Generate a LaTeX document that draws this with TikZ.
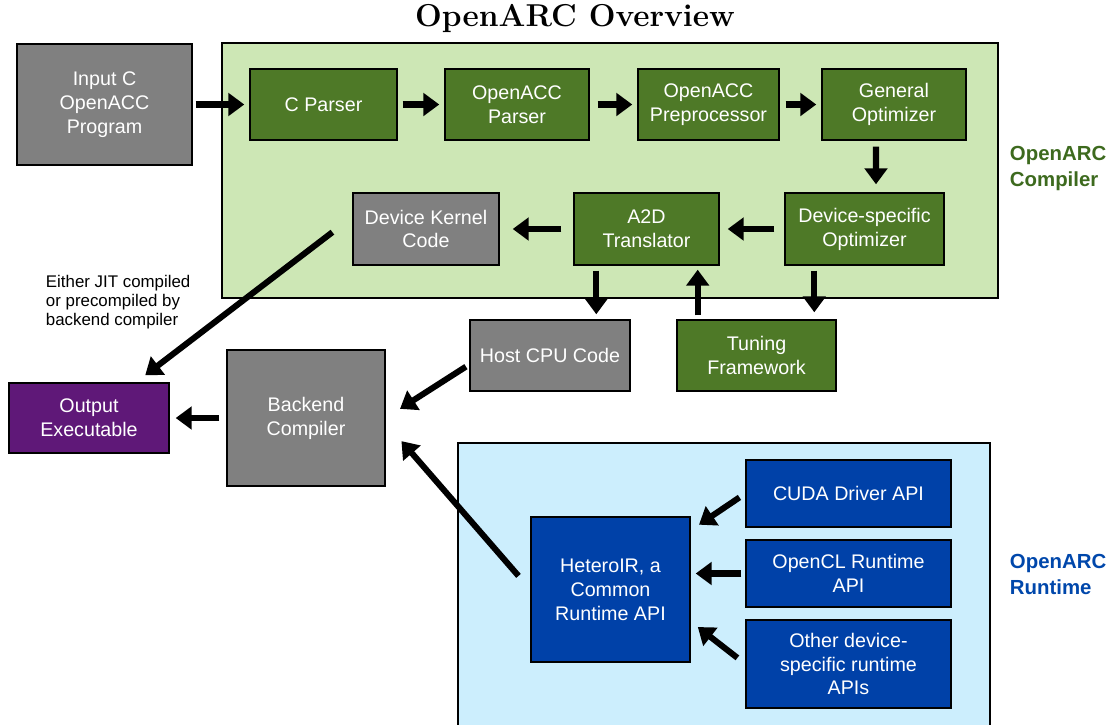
\documentclass[tikz,border=0pt]{standalone}
\usepackage{fontspec}
\setsansfont{Liberation Sans}
\usetikzlibrary{arrows.meta}

\definecolor{boxgray}{RGB}{128,128,128}
\definecolor{boxgreen}{RGB}{78,121,39}
\definecolor{compbg}{RGB}{205,231,181}
\definecolor{boxpurple}{RGB}{95,24,120}
\definecolor{rtbg}{RGB}{204,238,253}
\definecolor{boxblue}{RGB}{0,65,168}
\definecolor{complbl}{RGB}{61,106,30}
\definecolor{rtlbl}{RGB}{0,71,171}

\newcommand{\pxl}{0.025cm}

\tikzset{
  box/.style={draw=black, line width=1pt, text=white, align=center, inner sep=0pt,
    font=\sffamily\fontsize{14}{17}\selectfont},
  graybox/.style={box, fill=boxgray},
  greenbox/.style={box, fill=boxgreen},
  bluebox/.style={box, fill=boxblue},
  arr/.style={line width=4.3pt, -{Triangle[length=0.4cm,width=0.56cm]}},
  sidelbl/.style={anchor=west, align=left, font=\sffamily\bfseries\fontsize{14.5}{18.5}\selectfont}
}

\begin{document}
\begin{tikzpicture}[x=0.025cm, y=-0.025cm]
  \useasboundingbox (0,0) rectangle (1114,725);
  % Title
  \node[font=\bfseries\fontsize{22.5}{26}\selectfont] (title) at (575,18) {OpenARC Overview};
  % Backgrounds of compiler and runtime
  \draw[fill=compbg, line width=1pt] (222,43) rectangle (998,298);
  \draw[fill=rtbg, line width=1pt] (458,443) rectangle (990,726);
  \node[sidelbl, text=complbl] (complabel) at (1005,168) {OpenARC\\Compiler};
  \node[sidelbl, text=rtlbl] (rtlabel) at (1005,574) {OpenARC\\Runtime};

  % Compiler boxes
  \node[graybox, minimum width=175*\pxl, minimum height=121*\pxl] (inp) at (104.5,104.5) {Input C\\OpenACC\\Program};
  \node[greenbox, minimum width=147*\pxl, minimum height=71*\pxl] (cpar) at (323.5,104.5) {C Parser};
  \node[greenbox, minimum width=144*\pxl, minimum height=71*\pxl] (accpar) at (517,104.5) {OpenACC\\Parser};
  \node[greenbox, minimum width=141*\pxl, minimum height=71*\pxl] (prep) at (708.5,104.5) {OpenACC\\Preprocessor};
  \node[greenbox, minimum width=144*\pxl, minimum height=71*\pxl] (genopt) at (894,104.5) {General\\Optimizer};
  \node[greenbox, minimum width=159*\pxl, minimum height=72*\pxl] (devopt) at (864.5,229) {Device-specific\\Optimizer};
  \node[greenbox, minimum width=145*\pxl, minimum height=72*\pxl] (a2d) at (646.5,229) {A2D\\Translator};
  \node[graybox, minimum width=146*\pxl, minimum height=72*\pxl] (dkc) at (426,229) {Device Kernel\\Code};
  \node[graybox, minimum width=160*\pxl, minimum height=71*\pxl] (host) at (550,355.5) {Host CPU Code};
  \node[greenbox, minimum width=159*\pxl, minimum height=71*\pxl] (tune) at (756.5,355.5) {Tuning\\Framework};
  \node[box, fill=boxpurple, minimum width=160*\pxl, minimum height=70*\pxl] (out) at (89,418) {Output\\Executable};
  \node[graybox, minimum width=158*\pxl, minimum height=136*\pxl] (back) at (306,418) {Backend\\Compiler};
  \node[anchor=west, align=left, font=\sffamily\fontsize{12}{13.5}\selectfont] (note) at (41,302)
    {Either JIT compiled\\or precompiled by\\backend compiler};

  % Runtime boxes
  \node[bluebox, minimum width=159*\pxl, minimum height=145*\pxl] (hetero) at (610.5,589.5) {HeteroIR, a\\Common\\Runtime API};
  \node[bluebox, minimum width=205*\pxl, minimum height=67*\pxl] (cuda) at (848.5,493.5) {CUDA Driver API};
  \node[bluebox, minimum width=205*\pxl, minimum height=67*\pxl] (ocl) at (848.5,573.5) {OpenCL Runtime\\API};
  \node[bluebox, minimum width=205*\pxl, minimum height=88*\pxl] (other) at (848.5,664) {Other device-\\specific runtime\\APIs};

  % Compiler flow
  \draw[arr, shorten <=0.075cm, shorten >=0.125cm] (inp) -- (cpar);
  \draw[arr, shorten <=0.125cm, shorten >=0.125cm] (cpar) -- (accpar);
  \draw[arr, shorten <=0.2cm, shorten >=0.125cm] (accpar) -- (prep);
  \draw[arr, shorten <=0.15cm, shorten >=0.125cm] (prep) -- (genopt);
  \draw[arr, shorten <=0.15cm, shorten >=0.2cm] ([xshift=-18*\pxl]genopt.south) -- ([xshift=11.5*\pxl]devopt.north);
  \draw[arr, shorten <=0.25cm, shorten >=0.2cm] (devopt) -- (a2d);
  \draw[arr, shorten <=0.3cm, shorten >=0.325cm] (a2d) -- (dkc);
  \draw[arr, shorten <=0.125cm, shorten >=0.125cm] ([xshift=23*\pxl]a2d.south west) -- ([xshift=23*\pxl]a2d.south west |- host.north);
  \draw[arr, shorten <=0.1cm, shorten >=0.1cm] ([xshift=-22*\pxl]a2d.south east |- tune.north) -- ([xshift=-22*\pxl]a2d.south east);
  \draw[arr, shorten <=0.125cm, shorten >=0.175cm] ([xshift=30*\pxl]devopt.south west) -- ([xshift=30*\pxl]devopt.south west |- tune.north);

  % To backend and output
  \draw[arr, shorten <=0.625cm, shorten >=0.29cm] ([yshift=12*\pxl]dkc.west) -- ([xshift=47*\pxl]out.north);
  \draw[arr, shorten <=0.1cm, shorten >=0.425cm] ([yshift=-9*\pxl]host.west) -- (back.east);
  \draw[arr, shorten <=0.175cm, shorten >=0.15cm] (back) -- (out);
  \draw[arr, shorten <=0.45cm, shorten >=0.6cm] (hetero.west) -- ([yshift=-5*\pxl]back.east);

  % Runtime APIs
  \draw[arr, shorten <=0.175cm, shorten >=0.25cm] (cuda.west) -- ([yshift=-14*\pxl]hetero.north east);
  \draw[arr, shorten <=0.1cm, shorten >=0.125cm] (ocl.west) -- (ocl.west -| hetero.east);
  \draw[arr, shorten <=0.25cm, shorten >=0.225cm] (other.west) -- ([yshift=-32*\pxl]hetero.east);
\end{tikzpicture}
\end{document}
